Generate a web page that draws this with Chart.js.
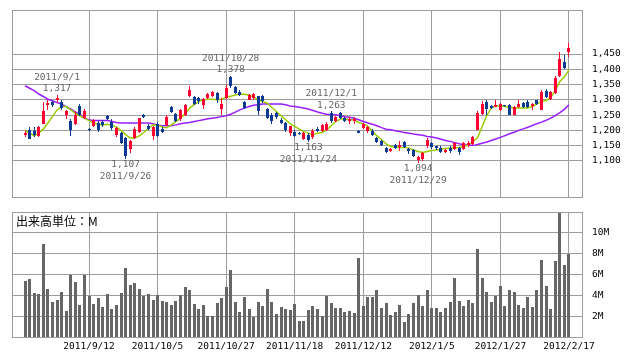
<!DOCTYPE html>
<html>
<head>
<meta charset="utf-8">
<script src="https://cdn.jsdelivr.net/npm/chart.js@4.4.1/dist/chart.umd.min.js"></script>
<style>
  body { margin: 0; background: #fff; }
  #wrap { position: relative; width: 638px; height: 362px; }
  #wrap canvas { position: absolute; left: 0; }
  #priceChart { top: 0; }
  #volChart { top: 200px; }
</style>
</head>
<body>
<div id="wrap">
  <canvas id="priceChart" width="638" height="200"></canvas>
  <canvas id="volChart" width="638" height="162"></canvas>
</div>
<script>
// 日付 (営業日)
const dates = [
  '2011/8/23','2011/8/24','2011/8/25','2011/8/26','2011/8/29','2011/8/30','2011/8/31',
  '2011/9/1','2011/9/2','2011/9/5','2011/9/6','2011/9/7','2011/9/8','2011/9/9','2011/9/12','2011/9/13','2011/9/14','2011/9/15','2011/9/16','2011/9/20','2011/9/21','2011/9/22','2011/9/26','2011/9/27','2011/9/28','2011/9/29','2011/9/30',
  '2011/10/3','2011/10/4','2011/10/5','2011/10/6','2011/10/7','2011/10/11','2011/10/12','2011/10/13','2011/10/14','2011/10/17','2011/10/18','2011/10/19','2011/10/20','2011/10/21','2011/10/24','2011/10/25','2011/10/26','2011/10/27','2011/10/28','2011/10/31',
  '2011/11/1','2011/11/2','2011/11/4','2011/11/7','2011/11/8','2011/11/9','2011/11/10','2011/11/11','2011/11/14','2011/11/15','2011/11/16','2011/11/17','2011/11/18','2011/11/21','2011/11/22','2011/11/24','2011/11/25','2011/11/28','2011/11/29','2011/11/30',
  '2011/12/1','2011/12/2','2011/12/5','2011/12/6','2011/12/7','2011/12/8','2011/12/9','2011/12/12','2011/12/13','2011/12/14','2011/12/15','2011/12/16','2011/12/19','2011/12/20','2011/12/21','2011/12/22','2011/12/26','2011/12/27','2011/12/28','2011/12/29','2011/12/30',
  '2012/1/4','2012/1/5','2012/1/6','2012/1/10','2012/1/11','2012/1/12','2012/1/13','2012/1/16','2012/1/17','2012/1/18','2012/1/19','2012/1/20','2012/1/23','2012/1/24','2012/1/25','2012/1/26','2012/1/27','2012/1/30','2012/1/31',
  '2012/2/1','2012/2/2','2012/2/3','2012/2/6','2012/2/7','2012/2/8','2012/2/9','2012/2/10','2012/2/13','2012/2/14','2012/2/15','2012/2/16','2012/2/17'
];

// 四本値
const open = [
  1186,1200,1199,1182,1222,1282,1294,1298,1292,1252, 1232,1222,1280,1240,1203,1213,1225,1228,1246,1229,
  1184,1190,1175,1140,1176,1194,1250,1214,1183,1222, 1206,1218,1275,1253,1236,1252,1314,1310,1305,1284,
  1306,1313,1322,1270,1306,1376,1343,1325,1292,1300, 1306,1311,1313,1270,1251,1256,1235,1224,1192,1196,
  1193,1172,1185,1180,1206,1198,1202,1256,1232,1256, 1240,1232,1230,1199,1208,1197,1199,1176,1165,1143,
  1132,1153,1145,1162,1139,1135,1104,1105,1148,1158, 1148,1142,1130,1142,1140,1142,1140,1151,1157,1202,
  1254,1294,1281,1278,1268,1282,1284,1252,1278,1291, 1294,1279,1298,1268,1330,1303,1321,1377,1425,1455
];
const high = [
  1197,1212,1211,1215,1292,1298,1297,1317,1298,1268, 1236,1262,1286,1270,1208,1237,1230,1235,1250,1236,
  1212,1195,1178,1170,1210,1242,1255,1220,1216,1228, 1210,1250,1280,1256,1270,1286,1346,1314,1310,1305,
  1322,1330,1325,1305,1348,1378,1346,1332,1296,1320, 1322,1314,1316,1273,1256,1260,1240,1227,1216,1200,
  1196,1196,1190,1204,1210,1222,1226,1263,1248,1260, 1243,1243,1243,1202,1224,1216,1203,1180,1168,1147,
  1143,1156,1164,1164,1142,1138,1117,1130,1175,1162, 1150,1150,1140,1150,1162,1145,1162,1165,1183,1262,
  1295,1298,1284,1300,1290,1284,1285,1280,1300,1294, 1298,1290,1300,1333,1335,1330,1378,1458,1446,1485
];
const low = [
  1180,1171,1180,1180,1220,1268,1276,1293,1267,1238, 1182,1218,1248,1238,1198,1210,1196,1210,1235,1202,
  1178,1156,1107,1126,1172,1190,1240,1200,1170,1180, 1190,1216,1258,1228,1232,1248,1310,1284,1285,1270,
  1303,1310,1290,1252,1303,1340,1320,1314,1270,1298, 1298,1250,1290,1236,1222,1238,1220,1196,1182,1178,
  1184,1170,1163,1172,1195,1195,1198,1225,1228,1238, 1228,1220,1222,1190,1203,1192,1182,1158,1148,1125,
  1129,1140,1131,1143,1124,1112,1094,1100,1143,1140, 1137,1126,1126,1126,1136,1118,1136,1146,1153,1200,
  1252,1252,1270,1275,1265,1276,1249,1250,1274,1272, 1272,1268,1282,1266,1306,1300,1318,1375,1400,1441
];
const close = [
  1193,1172,1186,1212,1262,1290,1284,1307,1272,1262, 1200,1250,1252,1265,1201,1233,1200,1217,1238,1207,
  1207,1158,1115,1165,1206,1240,1244,1206,1212,1183, 1194,1245,1261,1232,1266,1283,1333,1287,1295,1302,
  1318,1326,1300,1286,1338,1344,1322,1317,1273,1316, 1319,1262,1295,1240,1230,1243,1224,1200,1213,1181,
  1189,1191,1170,1199,1198,1218,1222,1230,1245,1241, 1232,1238,1238,1192,1220,1212,1186,1163,1151,1129,
  1139,1143,1153,1145,1132,1116,1112,1126,1170,1145, 1143,1130,1136,1134,1160,1129,1158,1160,1177,1258,
  1288,1271,1274,1284,1286,1279,1252,1277,1286,1276, 1277,1285,1285,1326,1310,1326,1370,1435,1405,1469
];

// 移動平均 (短期・長期)
const maShort = [
  1199,1191,1182,1191,1204,1224,1245,1267,1278,1278, 1267,1256,1248,1240,1232,1224,1220,1218,1220,1218,
  1211,1200,1186,1175,1175,1182,1193,1207,1218,1218, 1211,1209,1218,1229,1240,1254,1273,1284,1294,1300,
  1302,1302,1300,1302,1308,1312,1316,1319,1318,1316, 1310,1300,1294,1289,1275,1262,1248,1235,1222,1213,
  1204,1196,1191,1186,1191,1193,1202,1215,1229,1237, 1237,1235,1235,1226,1222,1213,1196,1182,1169,1156,
  1147,1145,1144,1144,1142,1136,1131,1128,1131,1134, 1136,1139,1141,1142,1142,1144,1147,1153,1164,1176,
  1212,1248,1273,1280,1280,1278,1276,1273,1273,1273, 1273,1278,1287,1295,1298,1306,1332,1360,1375,1398
];
const maLong = [
  1346,1338,1330,1319,1311,1302,1297,1291,1286,1278, 1270,1260,1253,1240,1235,1232,1232,1232,1232,1229,
  1226,1224,1224,1224,1224,1224,1224,1224,1222,1218, 1215,1215,1215,1218,1222,1224,1226,1229,1232,1235,
  1238,1240,1242,1245,1248,1253,1260,1267,1273,1278, 1282,1284,1286,1286,1286,1286,1286,1284,1280,1278,
  1276,1273,1270,1265,1260,1256,1253,1251,1251,1248, 1245,1243,1240,1235,1229,1224,1220,1215,1209,1204,
  1202,1199,1196,1193,1191,1188,1186,1184,1180,1178, 1175,1171,1167,1164,1160,1156,1153,1151,1151,1154,
  1158,1162,1167,1172,1177,1183,1189,1194,1200,1205, 1210,1216,1222,1227,1233,1240,1248,1258,1269,1284
];

// 出来高 (百万株)
const volume = [
  5.4,5.6,4.2,4.1,8.9,4.6,3.4,3.6,4.3,2.5, 6.0,5.3,3.1,6.0,3.9,3.2,3.7,2.9,4.1,2.7,
  3.1,4.2,6.6,5.0,5.2,4.6,3.9,4.1,3.6,4.0, 3.5,3.4,3.1,3.5,4.0,4.8,4.5,3.2,2.7,3.1,
  2.0,2.0,3.3,3.7,4.8,6.4,3.4,2.4,3.8,2.7, 1.9,3.4,3.0,4.6,3.4,2.2,2.9,2.7,2.6,3.2,
  1.5,1.5,2.6,3.0,2.7,2.0,3.9,3.3,2.8,2.8, 2.4,2.5,2.3,7.6,3.0,3.8,3.8,4.5,2.8,3.3,
  2.1,2.4,3.1,1.4,2.2,3.3,4.0,3.0,4.5,2.8, 2.8,2.4,2.8,3.4,5.7,3.5,3.0,3.6,3.3,8.4,
  5.7,4.3,3.4,3.9,4.9,3.0,4.5,4.3,3.1,2.8, 3.8,2.9,4.5,7.4,4.9,2.7,7.3,11.9,6.9,8.0
];

// 目盛り
const dateTickIdx = [14, 29, 44, 59, 74, 89, 104, 119];
const priceTicks = [1100, 1150, 1200, 1250, 1300, 1350, 1400, 1450];
const volTicks = [2, 4, 6, 8, 10];

// 高値・安値の注記
const notes = [
  { i: 7, side: 'high' },
  { i: 22, side: 'low' },
  { i: 45, side: 'high' },
  { i: 62, side: 'low' },
  { i: 67, side: 'high' },
  { i: 86, side: 'low' }
];

const UP = '#ff0033';
const DOWN = '#0a3a94';
const GRID = '#9c9c9c';
const MONO = "'DejaVu Sans Mono', monospace";

Chart.defaults.font.family = MONO;
Chart.defaults.font.size = 9.5;
Chart.defaults.color = '#000';

const candleColor = open.map((o, i) => close[i] >= o ? UP : DOWN);

// 枠線
const frame = {
  id: 'frame',
  afterDatasetsDraw(chart) {
    const a = chart.chartArea, ctx = chart.ctx;
    ctx.save();
    ctx.strokeStyle = GRID;
    ctx.lineWidth = 1;
    ctx.strokeRect(Math.round(a.left) + 0.5, Math.round(a.top) + 0.5,
      Math.round(a.right - a.left), Math.round(a.bottom - a.top));
    ctx.restore();
  }
};

// バーをピクセルに合わせる
const snapBars = {
  id: 'snapBars',
  afterDatasetsUpdate(chart) {
    chart.data.datasets.forEach((ds, k) => {
      const meta = chart.getDatasetMeta(k);
      if (meta.type !== 'bar') return;
      meta.data.forEach(el => {
        el.x = Math.floor(el.x) + 0.5;
        el.y = Math.round(el.y);
        el.base = Math.round(el.base);
        if (el.y === el.base) el.y = el.base - 1;
      });
    });
  }
};

const noteLabels = {
  id: 'noteLabels',
  afterDatasetsDraw(chart) {
    const ctx = chart.ctx;
    const xs = chart.scales.x, ys = chart.scales.y;
    ctx.save();
    ctx.font = '9.5px ' + MONO;
    ctx.fillStyle = '#666';
    ctx.textAlign = 'center';
    ctx.textBaseline = 'middle';
    notes.forEach(n => {
      const v = n.side === 'high' ? high[n.i] : low[n.i];
      const x = xs.getPixelForValue(n.i);
      const y = ys.getPixelForValue(v);
      const s = n.side === 'high' ? -1 : 1;
      ctx.fillText(v.toLocaleString('en-US'), x, y + s * 6);
      ctx.fillText(dates[n.i], x, y + s * 17.5);
    });
    ctx.restore();
  }
};

const volTitle = {
  id: 'volTitle',
  afterDraw(chart) {
    const ctx = chart.ctx;
    ctx.save();
    ctx.font = "12px 'Noto Sans CJK JP'";
    ctx.fillStyle = '#000';
    ctx.textAlign = 'left';
    ctx.textBaseline = 'middle';
    ctx.fillText('出来高単位：M', 16, chart.chartArea.top + 9.5);
    ctx.restore();
  }
};

function noPad(s) {
  s.paddingTop = 0;
  s.paddingBottom = 0;
  s.paddingLeft = 0;
  s.paddingRight = 0;
}

function dateAxis(showLabels) {
  return {
    type: 'linear',
    min: -2.85,
    max: 121.85,
    offset: false,
    afterBuildTicks: s => { s.ticks = dateTickIdx.map(v => ({ value: v })); },
    afterFit: s => { s.height = showLabels ? 25 : 3; noPad(s); },
    grid: { color: GRID, drawTicks: false, offset: false },
    border: { display: false },
    ticks: {
      display: showLabels,
      autoSkip: false,
      maxRotation: 0,
      padding: 4,
      callback: v => dates[v]
    }
  };
}

function valueAxis(lo, hi, tickVals, fmt) {
  return {
    position: 'right',
    min: lo,
    max: hi,
    afterBuildTicks: s => { s.ticks = tickVals.map(v => ({ value: v })); },
    afterFit: s => { s.width = 56; noPad(s); },
    grid: { color: GRID, drawTicks: false },
    border: { display: false },
    ticks: { padding: 10, callback: fmt }
  };
}

var ctx1 = document.getElementById('priceChart').getContext('2d');
var priceChart = new Chart(ctx1, {
  type: 'bar',
  data: {
    datasets: [
      {
        type: 'line',
        data: maLong.map((v, i) => ({ x: i, y: v })),
        borderColor: '#9a1cff',
        borderWidth: 1.5,
        pointRadius: 0,
        order: 4
      },
      {
        type: 'line',
        data: maShort.map((v, i) => ({ x: i, y: v })),
        borderColor: '#99cc00',
        borderWidth: 1.5,
        pointRadius: 0,
        order: 3
      },
      {
        data: low.map((v, i) => ({ x: i, y: [v, high[i]] })),
        backgroundColor: candleColor,
        maxBarThickness: 1,
        grouped: false,
        inflateAmount: 0,
        order: 2
      },
      {
        data: open.map((v, i) => ({ x: i, y: [v, close[i]] })),
        backgroundColor: candleColor,
        maxBarThickness: 3,
        minBarLength: 1,
        grouped: false,
        inflateAmount: 0,
        order: 1
      }
    ]
  },
  options: {
    responsive: false,
    animation: false,
    layout: { padding: { left: 12, top: 10, right: 0, bottom: 0 } },
    plugins: { legend: { display: false }, tooltip: { enabled: false } },
    scales: {
      x: dateAxis(false),
      y: valueAxis(982, 1594, priceTicks, v => v.toLocaleString('en-US'))
    }
  },
  plugins: [snapBars, frame, noteLabels]
});

var ctx2 = document.getElementById('volChart').getContext('2d');
var volChart = new Chart(ctx2, {
  type: 'bar',
  data: {
    datasets: [{
      data: volume.map((v, i) => ({ x: i, y: v })),
      backgroundColor: '#666666',
      maxBarThickness: 3,
      grouped: false,
      inflateAmount: 0
    }]
  },
  options: {
    responsive: false,
    animation: false,
    layout: { padding: { left: 12, top: 12, right: 0, bottom: 0 } },
    plugins: { legend: { display: false }, tooltip: { enabled: false } },
    scales: {
      x: dateAxis(true),
      y: valueAxis(0, 12, volTicks, v => v + 'M')
    }
  },
  plugins: [snapBars, frame, volTitle]
});
</script>
</body>
</html>
